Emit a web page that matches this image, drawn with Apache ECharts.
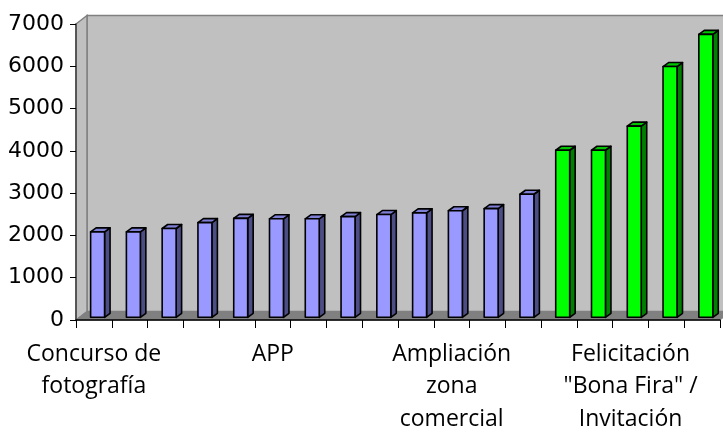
<!DOCTYPE html>
<html>
<head>
<meta charset="utf-8">
<script src="https://cdn.jsdelivr.net/npm/echarts@6/dist/echarts.min.js"></script>
<style>
html,body{margin:0;padding:0;background:#fff;}
#chart{width:723px;height:432px;}
</style>
</head>
<body>
<div id="chart"></div>
<script>
const categories = [
  "Concurso de\nfotografía", "", "", "", "",
  "APP", "", "", "", "",
  "Ampliación\nzona\ncomercial", "", "",
  "", "", "Felicitación\n\"Bona Fira\" /\nInvitación", "", ""
];
const blueValues = [2020, 2020, 2100, 2240, 2340, 2330, 2330, 2380, 2430, 2470, 2520, 2570, 2910];
const greenValues = [3950, 3950, 4520, 5930, 6690];
const yTicks = [0, 1000, 2000, 3000, 4000, 5000, 6000, 7000];

const DEPTH_X = 11, DEPTH_Y = -8.5;   // back wall offset
const BAR_X = 3.7, BAR_Y = -2.7;      // bar front offset inside depth
const SIDE_X = 5.5, SIDE_Y = -4;      // bar depth

function barRenderer(front, side, cap) {
  return function (params, api) {
    const idx = api.value(0), v = api.value(1);
    const base = api.coord([idx, 0]);
    const top = api.coord([idx, v]);
    const w = api.size([1, 0])[0] * 0.39;
    const x = base[0] - w / 2 + BAR_X;
    const y = top[1] + BAR_Y;
    const yb = base[1] + BAR_Y;
    const line = { stroke: '#000', lineWidth: 1.6, lineJoin: 'round' };
    return {
      type: 'group',
      children: [
        { type: 'polygon', shape: { points: [[x + w, y], [x + w + SIDE_X, y + SIDE_Y], [x + w + SIDE_X, yb + SIDE_Y], [x + w, yb]] },
          style: Object.assign({ fill: side }, line) },
        { type: 'polygon', shape: { points: [[x, y], [x + SIDE_X, y + SIDE_Y], [x + w + SIDE_X, y + SIDE_Y], [x + w, y]] },
          style: Object.assign({ fill: cap }, line) },
        { type: 'rect', shape: { x: x, y: y, width: w, height: yb - y },
          style: Object.assign({ fill: front }, line) }
      ]
    };
  };
}

function wallRenderer(params, api) {
  const c = params.coordSys;
  const gx = c.x, gy = c.y, gw = c.width, gh = c.height;
  return {
    type: 'group',
    children: [
      { type: 'polygon', shape: { points: [[gx + DEPTH_X, gy + DEPTH_Y], [gx + gw + DEPTH_X, gy + DEPTH_Y], [gx + gw + DEPTH_X, gy + gh + DEPTH_Y], [gx + DEPTH_X, gy + gh + DEPTH_Y]] },
        style: { fill: '#c0c0c0', stroke: '#808080', lineWidth: 1.5 } },
      { type: 'polygon', shape: { points: [[gx, gy], [gx + DEPTH_X, gy + DEPTH_Y], [gx + DEPTH_X, gy + gh + DEPTH_Y], [gx, gy + gh]] },
        style: { fill: '#c0c0c0', stroke: '#808080', lineWidth: 1.5 } },
      { type: 'polygon', shape: { points: [[gx, gy + gh], [gx + DEPTH_X, gy + gh + DEPTH_Y], [gx + gw + DEPTH_X, gy + gh + DEPTH_Y], [gx + gw, gy + gh]] },
        style: { fill: '#808080', stroke: '#808080', lineWidth: 1 } }
    ]
  };
}

const blueData = blueValues.map((v, i) => [i, v]);
const greenData = greenValues.map((v, i) => [blueValues.length + i, v]);

const chart = echarts.init(document.getElementById('chart'), null, { renderer: 'canvas' });
chart.setOption({
  animation: false,
  backgroundColor: '#ffffff',
  grid: { left: 76, right: 3, top: 24, bottom: 112, containLabel: false, outerBoundsMode: 'none' },
  xAxis: {
    type: 'category',
    data: categories,
    boundaryGap: true,
    axisLine: { show: true, lineStyle: { color: '#000', width: 1.5 } },
    axisTick: { show: true, interval: 0, length: 8, lineStyle: { color: '#000', width: 1 } },
    axisLabel: {
      interval: 4, margin: 18, color: '#000',
      fontFamily: 'Open Sans', fontSize: 23, lineHeight: 32.5, align: 'center'
    },
    splitLine: { show: false }
  },
  yAxis: {
    type: 'value',
    min: yTicks[0], max: yTicks[yTicks.length - 1], interval: 1000,
    axisLine: { show: true, lineStyle: { color: '#404040', width: 1.5 } },
    axisTick: { show: true, length: 6, lineStyle: { color: '#000', width: 1 } },
    axisLabel: { color: '#000', fontFamily: 'DejaVu Sans', fontSize: 22, margin: 12,
      formatter: (v) => String(v) },
    splitLine: { show: false }
  },
  series: [
    { type: 'custom', renderItem: wallRenderer, data: [[0, 0]], silent: true, z: 0, clip: false },
    { type: 'custom', name: 'base', renderItem: barRenderer('#9999ff', '#4d4d85', '#7f7fd6'), data: blueData, z: 2, clip: false },
    { type: 'custom', name: 'highlight', renderItem: barRenderer('#00ff00', '#008000', '#00c400'), data: greenData, z: 2, clip: false }
  ]
});
</script>
</body>
</html>
